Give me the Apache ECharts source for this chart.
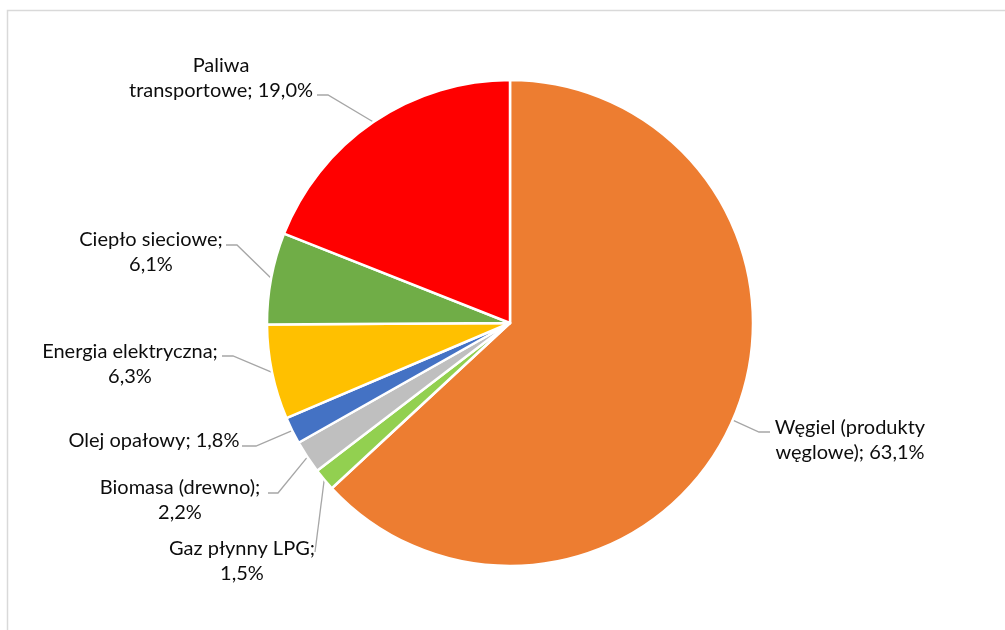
<!DOCTYPE html>
<html>
<head>
<meta charset="utf-8">
<script src="https://cdn.jsdelivr.net/npm/echarts@6/dist/echarts.min.js"></script>
<style>
html,body{margin:0;padding:0;background:#fff;}
#chart{width:1005px;height:630px;}
</style>
</head>
<body>
<div id="chart"></div>
<script>
// ---- data ----
const categories = ['Węgiel (produkty węglowe)', 'Gaz płynny LPG', 'Biomasa (drewno)', 'Olej opałowy', 'Energia elektryczna', 'Ciepło sieciowe', 'Paliwa transportowe'];
const shares = [63.1, 1.5, 2.2, 1.8, 6.3, 6.1, 19.0];
const colors = ['#ED7D31', '#92D050', '#BFBFBF', '#4472C4', '#FFC000', '#70AD47', '#FF0000'];
// how each label wraps: number of name words on line 1, 'semi' = break after ';', 'none' = one line
const labelWrap = [2, 'semi', 'semi', 'none', 'semi', 'semi', 1];

// ---- layout (label anchors and leader-line bends) ----
const labelLayoutCfg = [
  {x: 850, y: 440, elbow: [759, 432], end: [770, 432]},
  {x: 242, y: 561, elbow: [315, 552], end: [315, 552]},
  {x: 180, y: 500, elbow: [278, 493], end: [268, 493]},
  {x: 154, y: 441, elbow: [256, 446], end: [242, 446]},
  {x: 130, y: 364, elbow: [233, 356], end: [222, 356]},
  {x: 151, y: 252, elbow: [237, 245], end: [226, 245]},
  {x: 221, y: 78,  elbow: [328, 95],  end: [317, 95]}
];

function fmt(v) { return v.toFixed(1).replace('.', ',') + '%'; }

const chart = echarts.init(document.getElementById('chart'), null, {renderer: 'canvas'});
chart.setOption({
  backgroundColor: '#fff',
  animation: false,
  graphic: [{
    type: 'rect', silent: true,
    shape: {x: 7.5, y: 10.5, width: 1200, height: 800},
    style: {fill: 'none', stroke: '#D9D9D9', lineWidth: 1.5}
  }],
  series: [{
    type: 'pie',
    center: [510, 323],
    radius: 243,
    startAngle: 90,
    clockwise: true,
    avoidLabelOverlap: false,
    itemStyle: {borderColor: '#fff', borderWidth: 2.5},
    label: {
      show: true,
      position: 'outside',
      color: '#0d0d0d',
      fontFamily: 'Lato',
      fontSize: 20,
      lineHeight: 25,
      align: 'center',
      formatter: function (p) {
        const w = labelWrap[p.dataIndex];
        const txt = fmt(p.value);
        if (w === 'none') return p.name + '; ' + txt;
        if (w === 'semi') return p.name + ';\n' + txt;
        const words = p.name.split(' ');
        return words.slice(0, w).join(' ') + '\n' + words.slice(w).join(' ') + '; ' + txt;
      }
    },
    labelLine: {show: true, length: 20, length2: 10, lineStyle: {color: '#A6A6A6', width: 1.3}},
    labelLayout: function (params) {
      const c = labelLayoutCfg[params.dataIndex];
      const pts = params.labelLinePoints;
      return {
        x: c.x, y: c.y, align: 'center', verticalAlign: 'middle',
        labelLinePoints: [pts[0], c.elbow, c.end]
      };
    },
    emphasis: {disabled: true},
    data: categories.map((n, i) => ({name: n, value: shares[i], itemStyle: {color: colors[i]}}))
  }]
});
</script>
</body>
</html>
